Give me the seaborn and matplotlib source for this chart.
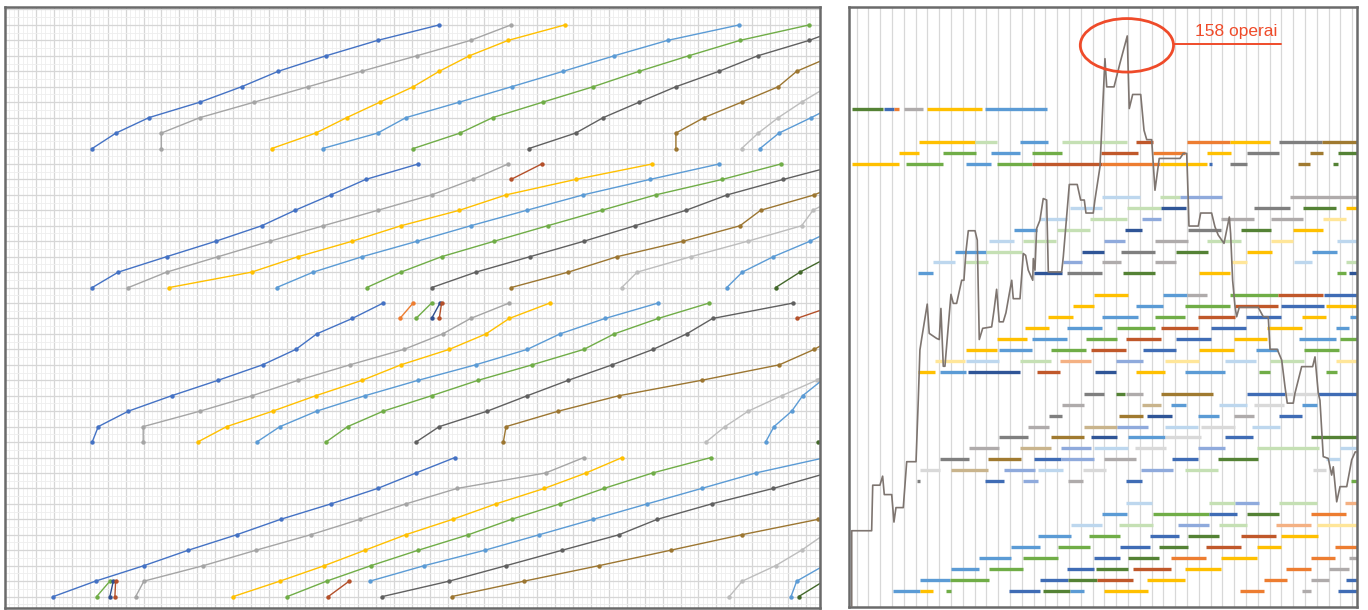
import numpy as np
import pandas as pd
import matplotlib
matplotlib.use("Agg")
import matplotlib.pyplot as plt
import seaborn as sns
from matplotlib.patches import Ellipse
from matplotlib.ticker import MultipleLocator

sns.set_style("white")
plt.rcParams['font.family'] = ['DejaVu Sans']

# ================= colours =================
C = {
    'blue': '#4472C4', 'gray': '#A5A5A5', 'yellow': '#FFC000', 'lblue': '#5B9BD5',
    'green': '#70AD47', 'dgray': '#606060', 'brown': '#9C7631', 'lgray': '#BDBDBD',
    'dgreen': '#43682B', 'orange': '#ED7D31', 'red': '#B4502A', 'dblue': '#2F4F8F',
}
GC = {
    'dg': '#548235', 'b': '#3F6CB5', 'db': '#2F5597', 'lb': '#5B9BD5', 'pb': '#BDD7EE',
    'g': '#70AD47', 'pg': '#C5E0B4', 'y': '#FFC000', 'py': '#FFE699', 'o': '#ED7D31',
    'rb': '#C0582A', 'pr': '#F4B183', 'gr': '#7F7F7F', 'lg': '#AFABAB', 'pgr': '#D9D9D9',
    'sl': '#8FAADC', 'br': '#A07A30', 'tn': '#C9B48C',
}

# ================= left: line of balance (day per floor) =================
band_base = [9, 18, 28, 38]          # row of floor 0 for each building
# (building, first floor, colour, day reached at each floor)
crew_lines = [
    (0, 0, 'blue',   [5.13, 6.46, 8.30, 11.15, 13.48, 15.53, 18.19, 21.08, 24.52]),
    (0, 0, 'gray',   [8.99, 8.99, 11.15, 14.18, 17.2, 20.18, 23.26, 26.27, 28.53]),
    (0, 0, 'yellow', [15.16, 17.62, 19.35, 21.2, 23.07, 24.52, 26.2, 28.37, 31.54]),
    (0, 0, 'lblue',  [18.0, 21.08, 22.66, 25.64, 28.56, 31.45, 34.29, 37.28, 41.28]),
    (0, 0, 'green',  [23.07, 25.68, 27.5, 30.3, 33.12, 35.69, 38.45, 41.32, 45.19]),
    (0, 0, 'dgray',  [29.53, 32.14, 33.68, 35.69, 37.74, 40.15, 42.31, 45.19, 47.5]),
    (0, 0, 'brown',  [37.74, 37.74, 39.31, 41.41, 43.46, 44.49, 46.5]),
    (0, 0, 'lgray',  [41.41, 42.34, 43.46, 44.76, 46.2]),
    (0, 0, 'lblue',  [42.44, 43.5, 45.3, 47.0]),
    (1, 0, 'blue',   [5.13, 6.59, 9.29, 12.04, 14.6, 16.46, 18.47, 20.41, 23.35]),
    (1, 0, 'gray',   [7.15, 9.29, 12.17, 15.06, 18.04, 21.08, 24.1, 26.39, 28.37]),
    (1, 0, 'yellow', [9.42, 14.04, 16.64, 19.66, 22.38, 25.64, 28.25, 32.14, 36.42]),
    (1, 0, 'lblue',  [15.43, 17.48, 20.22, 23.29, 26.27, 29.4, 32.56, 36.29, 40.16]),
    (1, 0, 'green',  [20.46, 22.38, 24.65, 27.59, 30.57, 33.59, 36.61, 40.33, 43.61]),
    (1, 0, 'dgray',  [24.1, 26.57, 29.59, 32.6, 35.45, 38.3, 40.61, 43.74, 47.0]),
    (1, 0, 'brown',  [28.53, 31.73, 34.46, 38.15, 41.32, 42.47, 45.47, 47.5]),
    (1, 0, 'lgray',  [34.71, 35.58, 38.58, 41.75, 44.76, 45.4, 47.0]),
    (1, 0, 'lblue',  [40.58, 41.45, 43.18, 45.23, 47.0]),
    (1, 0, 'dgreen', [43.31, 44.67, 46.3]),
    (1, 7, 'red',    [28.53, 30.24]),
    (2, 0, 'blue',   [5.13, 5.47, 7.15, 9.57, 12.17, 14.65, 16.51, 17.67, 19.66, 21.39]),
    (2, 0, 'gray',   [7.98, 7.98, 11.15, 14.07, 16.64, 19.53, 22.55, 24.71, 26.27, 28.43]),
    (2, 0, 'yellow', [11.02, 12.64, 15.21, 17.62, 20.22, 22.38, 25.08, 27.13, 28.43, 30.7]),
    (2, 0, 'lblue',  [14.32, 15.62, 17.67, 20.37, 23.35, 26.55, 29.44, 31.26, 33.78, 36.75]),
    (2, 0, 'green',  [18.19, 19.4, 21.39, 24.09, 26.7, 29.71, 32.6, 34.29, 36.75, 39.6]),
    (2, 0, 'dgray',  [23.22, 24.52, 27.2, 29.44, 31.73, 34.18, 36.47, 38.34, 39.79, 44.3]),
    (2, 0, 'brown',  [28.1, 28.25, 31.17, 34.56, 39.18, 43.52, 45.47, 47.0]),
    (2, 0, 'lgray',  [39.42, 40.48, 41.78, 43.65, 45.6, 47.0]),
    (2, 0, 'lblue',  [42.75, 43.22, 44.21, 44.82, 45.9, 47.0]),
    (2, 0, 'dgreen', [45.7, 47.0]),
    (2, 8, 'orange', [22.32, 23.06]),
    (2, 8, 'green',  [23.22, 24.09]),
    (2, 8, 'dblue',  [24.09, 24.56]),
    (2, 8, 'red',    [24.52, 24.65]),
    (2, 8, 'red',    [44.49, 47.0]),
    (3, 0, 'blue',   [2.96, 5.32, 8.02, 10.5, 13.2, 15.66, 18.47, 21.08, 23.22, 25.4]),
    (3, 0, 'gray',   [7.56, 8.02, 11.34, 14.28, 17.33, 20.09, 22.66, 25.52, 30.46, 32.6]),
    (3, 0, 'yellow', [13.01, 15.62, 18.1, 20.37, 22.64, 25.27, 27.69, 30.39, 32.72, 34.74]),
    (3, 0, 'green',  [16.03, 18.23, 20.7, 23.35, 26.14, 28.56, 31.26, 33.72, 36.44, 39.7]),
    (3, 1, 'lblue',  [20.65, 23.68, 27.07, 30.1, 33.12, 36.14, 39.18, 42.2, 46.1]),
    (3, 0, 'dgray',  [21.34, 25.08, 28.25, 31.39, 34.56, 36.7, 39.74, 43.18, 46.2]),
    (3, 0, 'brown',  [25.21, 29.27, 33.44, 37.45, 41.41, 45.69]),
    (3, 0, 'lgray',  [40.72, 41.45, 43.31, 44.76, 46.0]),
    (3, 0, 'lblue',  [44.17, 44.49, 46.0]),
    (3, 0, 'dgreen', [44.6, 46.0]),
    (3, 0, 'red',    [18.32, 19.49]),
    (3, 0, 'green',  [5.38, 6.12]),
    (3, 0, 'dblue',  [6.12, 6.31]),
    (3, 0, 'red',    [6.4, 6.44]),
]

# ================= right: gantt bars (row, start day, end day, colour) =================
gantt_bars = [
    (0, -0.4, 2.2, 'dg'), (0, 2.3, 3.2, 'b'), (0, 3.2, 3.6, 'o'), (0, 4.0, 5.6, 'lg'), (0, 6.0, 10.6, 'y'), (0, 10.9, 16.1, 'lb'),
    (3, 5.3, 10.0, 'y'), (3, 10.0, 11.9, 'pg'), (3, 13.8, 16.2, 'lb'), (3, 17.4, 22.9, 'pg'), (3, 23.7, 25.1, 'rb'), (3, 28.0, 31.6, 'o'), (3, 31.6, 35.0, 'y'), (3, 35.8, 39.4, 'gr'), (3, 39.4, 43, 'br'),
    (4, 3.6, 5.3, 'y'), (4, 7.3, 10.1, 'g'), (4, 11.4, 13.8, 'lb'), (4, 14.9, 17.4, 'g'), (4, 20.7, 23.8, 'rb'), (4, 25.1, 27.8, 'o'), (4, 29.7, 31.7, 'y'), (4, 33.1, 35.8, 'gr'), (4, 38.4, 39.5, 'br'), (4, 40.8, 43, 'dg'),
    (5, -0.4, 3.6, 'y'), (5, 4.2, 7.3, 'g'), (5, 9.3, 11.4, 'lb'), (5, 11.9, 14.9, 'g'), (5, 14.9, 20.8, 'rb'), (5, 20.8, 25.7, 'o'), (5, 25.7, 29.7, 'y'), (5, 29.9, 30.1, 'b'), (5, 31.6, 33.1, 'gr'), (5, 37.4, 38.4, 'br'), (5, 40.4, 40.8, 'dg'),
    (8, 20.8, 24.0, 'pb'), (8, 25.7, 27.4, 'pg'), (8, 27.4, 31.0, 'sl'), (8, 36.7, 43, 'lg'),
    (9, 18.1, 20.8, 'pb'), (9, 22.9, 25.8, 'pg'), (9, 25.8, 27.9, 'db'), (9, 33.7, 36.7, 'gr'), (9, 37.8, 40.6, 'dg'), (9, 41.5, 43, 'y'),
    (10, 15.5, 17.8, 'pb'), (10, 19.8, 22.9, 'pg'), (10, 24.2, 25.8, 'sl'), (10, 30.9, 33.7, 'lg'), (10, 35.1, 37.8, 'lg'), (10, 39.5, 41.5, 'py'),
    (11, 13.3, 15.3, 'lb'), (11, 17.0, 19.8, 'pg'), (11, 22.7, 24.2, 'db'), (11, 28.1, 30.9, 'gr'), (11, 32.6, 35.1, 'dg'), (11, 37.0, 39.5, 'y'),
    (12, 11.2, 13.3, 'pb'), (12, 14.1, 16.9, 'pg'), (12, 21.0, 22.7, 'sl'), (12, 25.3, 28.1, 'lg'), (12, 29.7, 32.6, 'pg'), (12, 35.1, 37.0, 'py'), (12, 40.7, 43, 'pb'),
    (13, 8.3, 11.0, 'lb'), (13, 11.0, 14.0, 'pg'), (13, 19.1, 21.0, 'db'), (13, 22.4, 25.3, 'gr'), (13, 27.1, 29.8, 'dg'), (13, 33.1, 35.2, 'y'), (13, 38.6, 40.7, 'lb'),
    (14, 6.5, 8.3, 'pb'), (14, 9.2, 11.1, 'pg'), (14, 17.5, 19.1, 'sl'), (14, 20.8, 22.4, 'lg'), (14, 25.3, 27.1, 'lg'), (14, 31.7, 33.1, 'py'), (14, 37.1, 38.6, 'pb'), (14, 41.5, 43, 'pg'),
    (15, 5.2, 6.5, 'lb'), (15, 15.0, 17.4, 'db'), (15, 17.8, 20.8, 'gr'), (15, 22.6, 25.3, 'dg'), (15, 29.0, 31.6, 'y'), (15, 40.7, 41.5, 'g'), (15, 41.7, 43, 'db'),
    (17, 20.1, 23.0, 'y'), (17, 26.0, 28.0, 'lb'), (17, 28.0, 29.7, 'lg'), (17, 31.6, 35.7, 'g'), (17, 35.7, 39.5, 'rb'), (17, 39.6, 43, 'b'),
    (18, 18.3, 20.1, 'y'), (18, 23.7, 26.0, 'lb'), (18, 27.8, 31.6, 'g'), (18, 32.1, 35.7, 'rb'), (18, 36.0, 39.6, 'b'), (18, 39.8, 43, 'y'),
    (19, 16.2, 18.3, 'y'), (19, 20.8, 23.8, 'lb'), (19, 25.3, 27.8, 'g'), (19, 28.9, 32.1, 'rb'), (19, 33.0, 36.0, 'b'), (19, 37.7, 39.8, 'y'), (19, 41.8, 43, 'lb'),
    (20, 14.3, 16.3, 'y'), (20, 17.8, 20.8, 'lb'), (20, 22.1, 25.3, 'g'), (20, 25.8, 28.9, 'rb'), (20, 30.0, 33.0, 'b'), (20, 34.8, 37.7, 'y'), (20, 40.6, 41.7, 'lb'),
    (21, 11.9, 14.4, 'y'), (21, 14.9, 17.8, 'lb'), (21, 19.4, 22.1, 'g'), (21, 22.8, 25.8, 'rb'), (21, 27.1, 30.0, 'b'), (21, 32.0, 34.8, 'y'), (21, 37.5, 40.6, 'lb'), (21, 41.0, 43, 'g'),
    (22, 9.3, 11.9, 'y'), (22, 12.1, 14.9, 'lb'), (22, 16.5, 19.4, 'g'), (22, 19.9, 22.8, 'rb'), (22, 24.3, 27.1, 'b'), (22, 29.0, 32.0, 'y'), (22, 33.8, 35.7, 'lb'), (22, 37.9, 40.9, 'g'),
    (23, 6.6, 9.2, 'py'), (23, 9.3, 12.1, 'pb'), (23, 13.8, 16.5, 'pg'), (23, 17.2, 19.9, 'pr'), (23, 22.0, 24.3, 'sl'), (23, 26.1, 29.0, 'py'), (23, 31.2, 33.8, 'pb'), (23, 35.0, 37.9, 'pg'), (23, 40.6, 43, 'py'),
    (24, 5.2, 6.6, 'y'), (24, 7.1, 9.3, 'lb'), (24, 9.4, 13.8, 'db'), (24, 15.3, 17.2, 'rb'), (24, 20.2, 22.0, 'db'), (24, 23.7, 26.1, 'y'), (24, 27.8, 31.2, 'lb'), (24, 34.1, 35.0, 'g'), (24, 39.8, 40.7, 'g'),
    (26, 19.3, 21.0, 'gr'), (26, 22.0, 22.7, 'dg'), (26, 22.8, 24.3, 'lg'), (26, 25.8, 30.2, 'br'), (26, 33.1, 36.3, 'b'), (26, 36.3, 39.1, 'pgr'), (26, 39.1, 43, 'b'),
    (27, 17.4, 19.3, 'lg'), (27, 24.2, 25.8, 'tn'), (27, 26.6, 27.9, 'lb'), (27, 30.7, 33.1, 'pb'), (27, 33.7, 36.2, 'pgr'), (27, 37.7, 39.0, 'lb'),
    (28, 16.3, 17.4, 'gr'), (28, 22.2, 24.3, 'br'), (28, 24.6, 26.7, 'db'), (28, 28.9, 30.7, 'lb'), (28, 32.0, 33.7, 'lg'), (28, 35.8, 37.7, 'b'),
    (29, 14.5, 16.3, 'lg'), (29, 19.3, 22.1, 'tn'), (29, 22.1, 24.7, 'sl'), (29, 26.1, 28.9, 'pb'), (29, 29.2, 32.1, 'pgr'), (29, 33.5, 35.9, 'pb'),
    (30, 12.1, 14.5, 'gr'), (30, 16.5, 19.3, 'br'), (30, 19.9, 22.1, 'db'), (30, 23.0, 26.1, 'lb'), (30, 26.1, 29.2, 'pgr'), (30, 31.2, 33.6, 'b'), (30, 38.5, 43, 'dg'),
    (31, 9.5, 12.1, 'lg'), (31, 13.8, 16.5, 'tn'), (31, 17.3, 19.9, 'sl'), (31, 20.1, 23.0, 'pb'), (31, 23.6, 26.2, 'pgr'), (31, 28.9, 31.2, 'sl'), (31, 33.9, 39.2, 'pg'), (31, 41.0, 43, 'pb'),
    (32, 7.1, 9.5, 'gr'), (32, 11.1, 13.9, 'br'), (32, 15.0, 17.3, 'b'), (32, 17.3, 20.1, 'sl'), (32, 21.0, 23.7, 'lg'), (32, 26.7, 28.9, 'b'), (32, 30.6, 34.0, 'dg'), (32, 39.8, 41.0, 'pb'),
    (33, 5.4, 7.1, 'pgr'), (33, 8.0, 11.1, 'tn'), (33, 12.5, 15.1, 'sl'), (33, 15.4, 17.5, 'pb'), (33, 19.2, 21.1, 'pgr'), (33, 24.1, 26.8, 'sl'), (33, 27.8, 30.6, 'pg'), (33, 38.7, 39.8, 'pgr'),
    (34, 5.1, 5.4, 'gr'), (34, 10.9, 12.5, 'b'), (34, 14.1, 15.4, 'sl'), (34, 17.9, 19.2, 'lg'), (34, 22.8, 24.2, 'b'), (34, 41.9, 43, 'g'),
    (36, 22.8, 25.0, 'pb'), (36, 29.9, 32.1, 'pg'), (36, 32.1, 34.1, 'sl'), (36, 35.8, 39.0, 'pg'), (36, 41.4, 43, 'pr'),
    (37, 20.8, 22.9, 'lb'), (37, 25.1, 29.9, 'g'), (37, 29.9, 32.2, 'b'), (37, 33.1, 35.8, 'dg'), (37, 38.5, 41.5, 'o'),
    (38, 18.2, 20.8, 'pb'), (38, 22.2, 25.1, 'pg'), (38, 27.2, 29.9, 'sl'), (38, 30.7, 33.1, 'pg'), (38, 35.5, 38.5, 'pr'), (38, 39.0, 43, 'py'),
    (39, 15.4, 18.2, 'lb'), (39, 19.7, 22.3, 'g'), (39, 24.9, 27.3, 'b'), (39, 28.1, 30.7, 'dg'), (39, 32.6, 35.5, 'rb'), (39, 36.0, 39.1, 'y'),
    (40, 13.1, 15.5, 'lb'), (40, 17.1, 19.8, 'g'), (40, 22.3, 24.9, 'b'), (40, 25.6, 28.1, 'dg'), (40, 29.6, 32.6, 'rb'), (40, 33.9, 36.0, 'y'), (40, 40.5, 43, 'o'),
    (41, 10.4, 13.1, 'lb'), (41, 14.1, 17.1, 'g'), (41, 20.1, 22.3, 'b'), (41, 23.0, 25.6, 'dg'), (41, 26.6, 29.6, 'o'), (41, 30.9, 33.9, 'y'), (41, 38.5, 40.5, 'o'), (41, 41.7, 43, 'lg'),
    (42, 8.0, 10.4, 'lb'), (42, 11.2, 14.1, 'g'), (42, 17.8, 20.1, 'b'), (42, 20.3, 23.0, 'dg'), (42, 23.4, 26.6, 'rb'), (42, 27.8, 30.9, 'y'), (42, 36.4, 38.5, 'o'), (42, 40.0, 41.7, 'lg'),
    (43, 5.4, 7.9, 'lb'), (43, 7.9, 11.2, 'g'), (43, 15.5, 17.9, 'b'), (43, 17.9, 20.4, 'dg'), (43, 20.4, 23.4, 'rb'), (43, 24.6, 27.8, 'y'), (43, 34.5, 36.5, 'o'), (43, 38.5, 40.0, 'lg'), (43, 41.5, 43, 'b'),
    (44, 3.1, 5.4, 'lb'), (44, 5.4, 6.5, 'y'), (44, 7.6, 8.0, 'g'), (44, 12.9, 15.5, 'b'), (44, 15.8, 18.1, 'dg'), (44, 18.1, 19.3, 'lb'), (44, 21.0, 24.7, 'y'), (44, 32.5, 34.5, 'o'), (44, 37.7, 38.5, 'lg'), (44, 40.8, 43, 'b'),
]

# ================= right: workers on site per day =================
hist_day = [
    -0.42, -0.42, 1.27, 1.36, 1.97, 2.2, 2.34, 2.97, 3.16, 3.33,
    3.95, 4.24, 5.03, 5.22, 5.36, 5.51, 5.98, 6.15, 6.78, 7.0,
    7.14, 7.34, 7.48, 7.99, 8.19, 8.47, 8.9, 9.09, 9.26, 9.46,
    10.03, 10.22, 10.39, 10.68, 11.44, 11.64, 11.86, 12.08, 12.42, 12.65,
    12.93, 13.14, 13.27, 13.84, 14.12, 14.32, 14.54, 14.92, 14.97, 15.11,
    15.25, 15.53, 15.81, 16.1, 16.24, 17.37, 17.51, 18.02, 18.69, 18.98,
    19.29, 19.43, 20.05, 20.19, 20.62, 21.04, 21.19, 21.81, 22.31, 22.93,
    23.1, 23.39, 24.07, 24.35, 24.58, 25.0, 25.28, 25.64, 27.4, 27.68,
    27.97, 28.1, 28.16, 28.95, 29.15, 30.08, 30.36, 30.64, 31.13, 31.58,
    31.69, 31.86, 32.06, 32.2, 32.42, 34.03, 34.46, 34.88, 35.03, 35.64,
    36.02, 36.3, 36.49, 37.0, 37.14, 37.71, 38.64, 38.84, 39.12, 39.26,
    39.54, 39.97, 40.25, 40.39, 40.68, 40.96, 41.53, 41.95, 42.25, 42.65,
]
hist_workers = [
    0, 21.1, 21.1, 33.7, 33.7, 36.2, 31.1, 31.1, 23.5, 27.5,
    27.5, 40.2, 40.2, 57.2, 71.1, 74.3, 83.8, 75.7, 74.3, 74.0,
    82.6, 66.6, 66.6, 86.5, 84.0, 84.0, 90.4, 90.4, 98.3, 104.1,
    104.1, 101.5, 74.0, 77.1, 77.5, 82.1, 87.9, 78.9, 78.9, 81.4,
    86.6, 90.4, 85.3, 85.3, 97.8, 97.3, 93.2, 90.4, 96.4, 93.2,
    104.7, 107.0, 113.0, 112.6, 92.7, 92.7, 96.9, 116.9, 116.9, 112.6,
    112.6, 109.0, 109.0, 112.6, 121.8, 151.7, 143.9, 143.9, 150.4, 158,
    137.9, 141.8, 141.8, 131.9, 129.3, 129.3, 115.3, 124.1, 124.1, 125.5,
    125.5, 112.6, 105.4, 105.4, 109.0, 109.0, 105.2, 102.9, 100.6, 107.9,
    103.3, 90.4, 83.2, 80.3, 82.9, 82.9, 80.3, 80.3, 71.3, 71.3,
    68.3, 60.9, 56.4, 56.4, 59.1, 66.5, 66.5, 69.2, 59.1, 57.2,
    41.6, 41.1, 36.5, 38.8, 29.1, 33.3, 33.3, 40.7, 42.9, 42.9,
]
peak_label = "158 operai"

# ================= figure =================
fig = plt.figure(figsize=(13.68, 6.10), dpi=100)
axL = fig.add_axes([5 / 1368, 1 - 608 / 610, 815 / 1368, 601 / 610])
axR = fig.add_axes([849 / 1368, 1 - 607 / 610, 508 / 1368, 600 / 610])

SPINE = '#6A6A6A'

# ---- left panel ----
rows = []
pal = {}
for i, (band, f0, col, xs) in enumerate(crew_lines):
    lid = f"L{i:02d}"
    pal[lid] = C[col]
    for j, x in enumerate(xs):
        rows.append({'line': lid, 'day': x, 'row': band_base[band] - (f0 + j)})
df = pd.DataFrame(rows)

axL.set_xlim(0.26, 45.79)
axL.set_ylim(38.74, -0.16)
axL.xaxis.set_major_locator(MultipleLocator(1))
axL.xaxis.set_minor_locator(MultipleLocator(0.25))
axL.yaxis.set_major_locator(MultipleLocator(1))
axL.yaxis.set_minor_locator(MultipleLocator(0.5))
axL.grid(True, which='major', color='#D6D6D6', linewidth=0.9)
axL.grid(True, which='minor', color='#EEEEEE', linewidth=0.6)
axL.set_axisbelow(True)

sns.lineplot(data=df, x='day', y='row', hue='line', palette=pal, estimator=None,
             sort=False, marker='o', markersize=3.2, mew=0, linewidth=1.0,
             legend=False, ax=axL)

# ---- right panel: gantt ----
axR.set_xlim(-0.65, 42.4)
axR.set_ylim(45.5, -9.36)
axR.xaxis.set_major_locator(MultipleLocator(1))
axR.grid(True, axis='x', color='#D8D8D8', linewidth=0.9)
axR.set_axisbelow(True)
g_row = [b[0] for b in gantt_bars]
g_start = [b[1] for b in gantt_bars]
g_end = [b[2] for b in gantt_bars]
g_col = [GC[b[3]] for b in gantt_bars]
axR.hlines(g_row, g_start, g_end, colors=g_col, linewidth=2.4, zorder=2)

# ---- right panel: workers curve ----
axH = axR.twinx()
axH.set_ylim(0, 166)
for s in axH.spines.values():
    s.set_visible(False)
sns.lineplot(x=hist_day, y=hist_workers, sort=False, estimator=None,
             color='#7E7570', linewidth=1.2, ax=axH, zorder=3)

RED = '#EF4B2A'
axH.add_patch(Ellipse((22.9, 155.4), width=7.9, height=14.8, fill=False,
                      edgecolor=RED, linewidth=2.0, zorder=4))
axH.plot([26.85, 36.0], [155.9, 155.9], color=RED, linewidth=1.4, zorder=4)
axH.text(28.7, 159.2, peak_label, color=RED, fontsize=12.5, va='center', ha='left',
         family=['Liberation Sans', 'DejaVu Sans'])

# clean frames / ticks on all axes (after twinx, which re-enables ticks)
for ax in (axL, axR, axH):
    ax.tick_params(left=False, right=False, bottom=False, top=False, which='both',
                   labelleft=False, labelright=False, labelbottom=False)
    ax.set_xlabel("")
    ax.set_ylabel("")
for ax in (axL, axR):
    for s in ax.spines.values():
        s.set_color(SPINE)
        s.set_linewidth(1.8)

fig.savefig("out.png", dpi=100)
